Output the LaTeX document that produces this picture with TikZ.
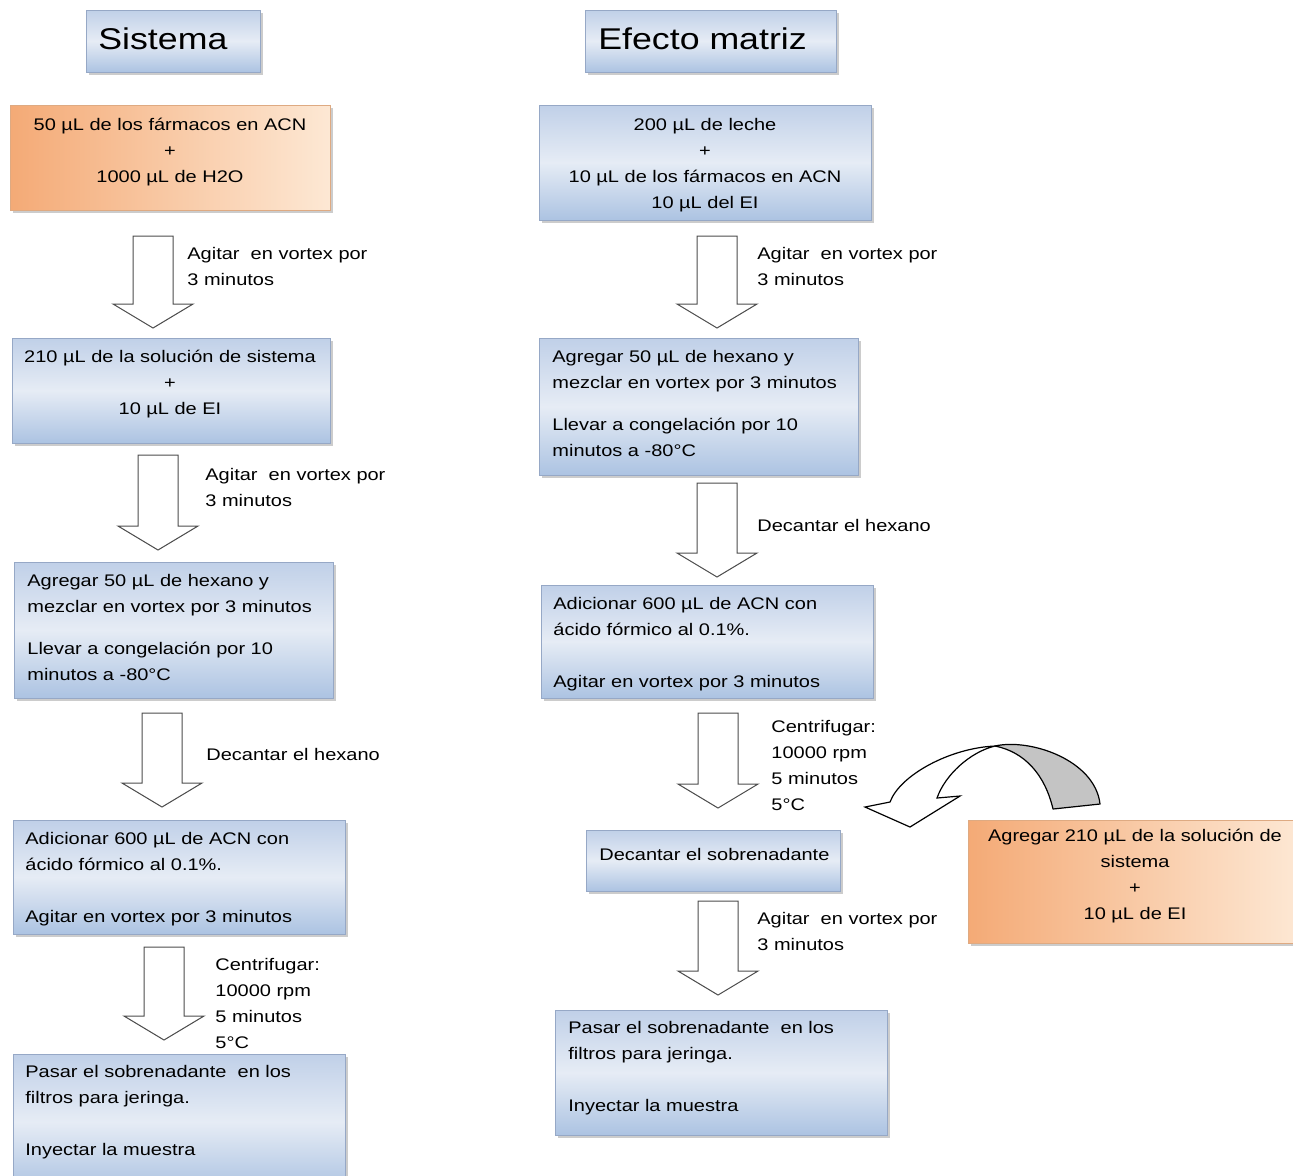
\documentclass[tikz,border=0pt]{standalone}
\usepackage{fontspec}
\setmainfont[FakeStretch=1.19]{Liberation Sans}
\usetikzlibrary{shadows,fit,calc}

\definecolor{bluetop}{RGB}{192,208,232}
\definecolor{bluemid}{RGB}{230,236,245}
\definecolor{bluebot}{RGB}{172,195,226}
\definecolor{blueedge}{RGB}{150,168,198}
\definecolor{orgleft}{RGB}{244,170,118}
\definecolor{orgright}{RGB}{253,232,212}
\definecolor{orgedge}{RGB}{222,170,130}
\definecolor{ribbon}{RGB}{196,196,196}

% one unit = one pixel of the drawing, y grows downwards
\tikzset{
  panel/.style={inner sep=0pt, line width=0.5pt,
    drop shadow={shadow xshift=1.3pt, shadow yshift=-1.3pt, opacity=0.4, fill=black!50}},
  bluebox/.style={panel, draw=blueedge, top color=bluetop, bottom color=bluebot, middle color=bluemid},
  orangebox/.style={panel, draw=orgedge, left color=orgleft, right color=orgright},
  stepnote/.style={inner sep=0pt, align=left, anchor=north west, yshift=6pt,
    font=\fontsize{8.4}{13}\selectfont, execute at begin node=\strut},
  stepmid/.style={stepnote, align=center, anchor=north},
  headtext/.style={inner sep=0pt, anchor=base west, font=\fontsize{15}{18}\selectfont},
  blockarrow/.style={draw=black!70, line width=0.5pt, fill=white, line join=miter},
}

% downward block arrow: name, centre x, top y, tip y
\newcommand\downblock[4]{%
  \coordinate (#1) at (#2,#3);
  \draw[blockarrow] ($(#1)+(-20,0)$) -- ++(40,0) -- (#2+20,#4-24)
    -- (#2+40,#4-24) -- (#2,#4) -- (#2-40,#4-24) -- (#2-20,#4-24) -- cycle;}

\begin{document}
\begin{tikzpicture}[x=0.5pt,y=-0.5pt]
\useasboundingbox (0,0) rectangle (1293,1175);

% ---------- headers ----------
\node[bluebox, fit={(86,10) (260,72)}] (hsis) {};
\node[headtext] (hsist) at (98,49) {Sistema};
\node[bluebox, fit={(585,10) (836,72)}] (hmat) {};
\node[headtext] (hmatt) at (598,49) {Efecto matriz};

% ---------- left column: sistema ----------
\node[orangebox, fit={(10,105) (330,210)}] (L1) {};
\node[stepmid] (L1t) at (170,130) {50 µL de los fármacos en ACN\\+\\1000 µL de H2O};

\downblock{a1}{153}{236}{328}
\node[stepnote] (a1t) at (187,259) {Agitar~ en vortex por\\3 minutos};

\node[bluebox, fit={(12,338) (330,443)}] (L2) {};
\node[stepmid] (L2t) at (170,362) {210 µL de la solución de sistema\\+\\10 µL de EI};

\downblock{a2}{158}{455}{550}
\node[stepnote] (a2t) at (205,480) {Agitar~ en vortex por\\3 minutos};

\node[bluebox, fit={(14,562) (333,698)}] (L3) {};
\node[stepnote] (L3t) at (27,586) {Agregar 50 µL de hexano y\\mezclar en vortex por 3 minutos\\[8pt]Llevar a congelación por 10\\minutos a -80°C};

\downblock{a3}{162}{713}{807}
\node[stepnote] (a3t) at (206,754) {Decantar el hexano};

\node[bluebox, fit={(13,820) (345,934)}] (L4) {};
\node[stepnote] (L4t) at (25,844) {Adicionar 600 µL de ACN con\\ácido fórmico al 0.1\%.\\[13pt]Agitar en vortex por 3 minutos};

\downblock{a4}{164}{947}{1040}
\node[stepnote] (a4t) at (215,970) {Centrifugar:\\10000 rpm\\5 minutos\\5°C};

\node[bluebox, fit={(13,1054) (345,1190)}] (L5) {};
\node[stepnote] (L5t) at (25,1077) {Pasar el sobrenadante~ en los\\filtros para jeringa.\\[13pt]Inyectar la muestra};

% ---------- right column: efecto matriz ----------
\node[bluebox, fit={(539,105) (871,220)}] (R1) {};
\node[stepmid] (R1t) at (705,130) {200 µL de leche\\+\\10 µL de los fármacos en ACN\\10 µL del EI};

\downblock{b1}{717}{236}{328}
\node[stepnote] (b1t) at (757,259) {Agitar~ en vortex por\\3 minutos};

\node[bluebox, fit={(539,338) (858,475)}] (R2) {};
\node[stepnote] (R2t) at (552,362) {Agregar 50 µL de hexano y\\mezclar en vortex por 3 minutos\\[8pt]Llevar a congelación por 10\\minutos a -80°C};

\downblock{b2}{717}{483}{577}
\node[stepnote] (b2t) at (757,525) {Decantar el hexano};

\node[bluebox, fit={(541,585) (873,698)}] (R3) {};
\node[stepnote] (R3t) at (553,609) {Adicionar 600 µL de ACN con\\ácido fórmico al 0.1\%.\\[13pt]Agitar en vortex por 3 minutos};

\downblock{b3}{718}{713}{808}
\node[stepnote] (b3t) at (771,732) {Centrifugar:\\10000 rpm\\5 minutos\\5°C};

\node[bluebox, fit={(586,830) (840,891)}] (R4) {};
\node[stepnote] (R4t) at (599,854) {Decantar el sobrenadante};

\downblock{b4}{718}{901}{995}
\node[stepnote] (b4t) at (757,924) {Agitar~ en vortex por\\3 minutos};

\node[bluebox, fit={(555,1010) (887,1135)}] (R5) {};
\node[stepnote] (R5t) at (568,1033) {Pasar el sobrenadante~ en los\\filtros para jeringa.\\[13pt]Inyectar la muestra};

% ---------- added solution and curved ribbon arrow ----------
\node[orangebox, fit={(968,820) (1300,943)}] (R6) {};
\node[stepmid] (R6t) at (1135,841) {Agregar 210 µL de la solución de\\sistema\\+\\10 µL de EI};

\coordinate (twist) at (995,746);
\coordinate (tailout) at (1100,804);
\coordinate (tailin) at (1053,809);
% back face of the ribbon
\draw[fill=ribbon, line width=0.6pt, line join=round] (twist)
  .. controls (1030,738) and (1095,760) .. (tailout) -- (tailin)
  .. controls (1045,775) and (1025,752) .. (twist) -- cycle;
% front face with the arrow head
\draw[fill=white, line width=0.6pt, line join=miter] (twist)
  .. controls (950,748) and (900,775) .. (890,802)
  -- (865,807) -- (910,827) -- (960,796) -- (937,798)
  .. controls (945,775) and (970,752) .. (twist) -- cycle;
\end{tikzpicture}
\end{document}
